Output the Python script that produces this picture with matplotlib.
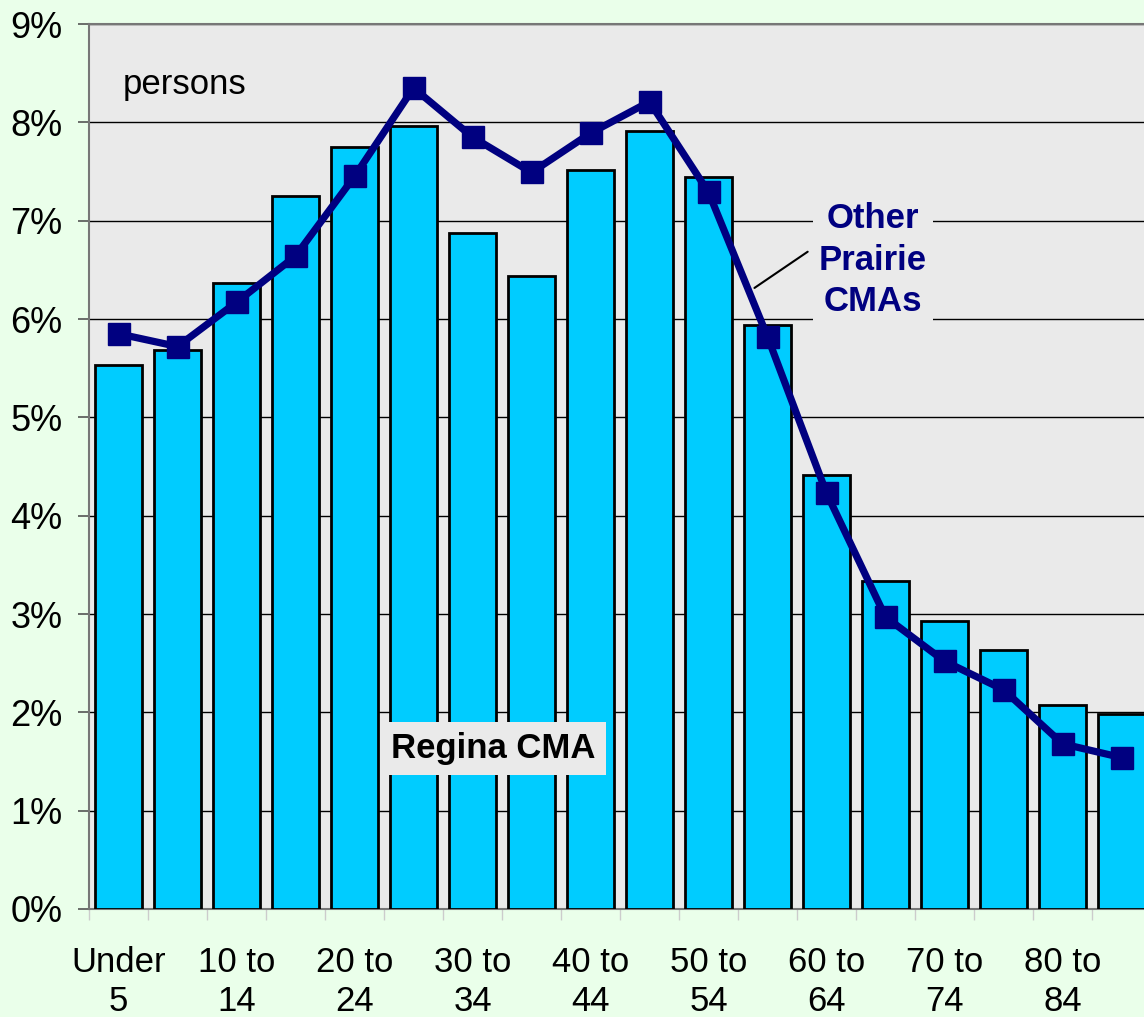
import matplotlib
matplotlib.use('Agg')
import matplotlib.pyplot as plt
import numpy as np

# age groups (18 five-year groups)
age_groups = ['Under 5', '5 to 9', '10 to 14', '15 to 19', '20 to 24', '25 to 29',
              '30 to 34', '35 to 39', '40 to 44', '45 to 49', '50 to 54', '55 to 59',
              '60 to 64', '65 to 69', '70 to 74', '75 to 79', '80 to 84', '85+']
tick_labels = ['Under\n5', '', '10 to\n14', '', '20 to\n24', '', '30 to\n34', '',
               '40 to\n44', '', '50 to\n54', '', '60 to\n64', '', '70 to\n74', '',
               '80 to\n84', '']

# share of population, %
regina = [5.53, 5.68, 6.37, 7.25, 7.75, 7.96, 6.87, 6.44, 7.52, 7.91,
          7.44, 5.94, 4.41, 3.34, 2.93, 2.63, 2.07, 1.98]
other_prairie = [5.85, 5.72, 6.17, 6.64, 7.45, 8.35, 7.85, 7.49, 7.89, 8.21,
                 7.29, 5.82, 4.23, 2.97, 2.52, 2.23, 1.68, 1.54]

plt.rcParams['font.family'] = ['Liberation Sans', 'DejaVu Sans']

fig = plt.figure(figsize=(11.44, 10.17), dpi=100)
fig.patch.set_facecolor('#eaffea')
ax = fig.add_axes([89 / 1144, 108 / 1017, 1062 / 1144, 885 / 1017])
ax.set_facecolor('#eaeaea')

x = np.arange(len(age_groups))
ax.bar(x, regina, width=0.81, color='#00ccff', edgecolor='black', linewidth=2, zorder=3)
ax.plot(x, other_prairie, color='#000080', linewidth=5.2, marker='s', markersize=16,
        zorder=4)

ax.set_xlim(-0.5, len(age_groups) - 0.5)
ax.set_ylim(0, 9)
ax.set_yticks(range(10))
ax.set_yticklabels([f'{i}%' for i in range(10)], fontsize=26)
ax.yaxis.grid(True, color='black', linewidth=1.0, zorder=0)
ax.set_axisbelow(True)
ax.tick_params(axis='y', length=8, width=1.2, color='#555555', pad=11)

ax.set_xticks(x)
ax.set_xticklabels(tick_labels, fontsize=25, linespacing=1.2)
ax.tick_params(axis='x', which='major', length=0, pad=27)
ax.set_xticks(np.arange(-0.5, len(age_groups), 1), minor=True)
ax.tick_params(axis='x', which='minor', length=8, width=1, color='#cccccc')

for side in ['top', 'bottom', 'left']:
    ax.spines[side].set_color('#777777')
    ax.spines[side].set_linewidth(1.5)
ax.spines['right'].set_visible(False)

ax.text(0.076, 8.38, 'persons', fontsize=25, ha='left', va='center')
ax.text(12.79, 6.60, 'Other\nPrairie\nCMAs', fontsize=25, fontweight='bold', color='#000080',
        ha='center', va='center', linespacing=1.33, zorder=5,
        bbox=dict(facecolor='#eaeaea', edgecolor='none', pad=4))
ax.annotate('', xy=(10.74, 6.30), xytext=(11.72, 6.70),
            arrowprops=dict(arrowstyle='-', color='black', linewidth=1.5), zorder=5)
ax.text(6.36, 1.63, 'Regina CMA', fontsize=25, fontweight='bold', color='black',
        ha='center', va='center', zorder=5,
        bbox=dict(facecolor='#eaeaea', edgecolor='none', pad=7))

fig.savefig('out.png', dpi=100, facecolor=fig.get_facecolor())
